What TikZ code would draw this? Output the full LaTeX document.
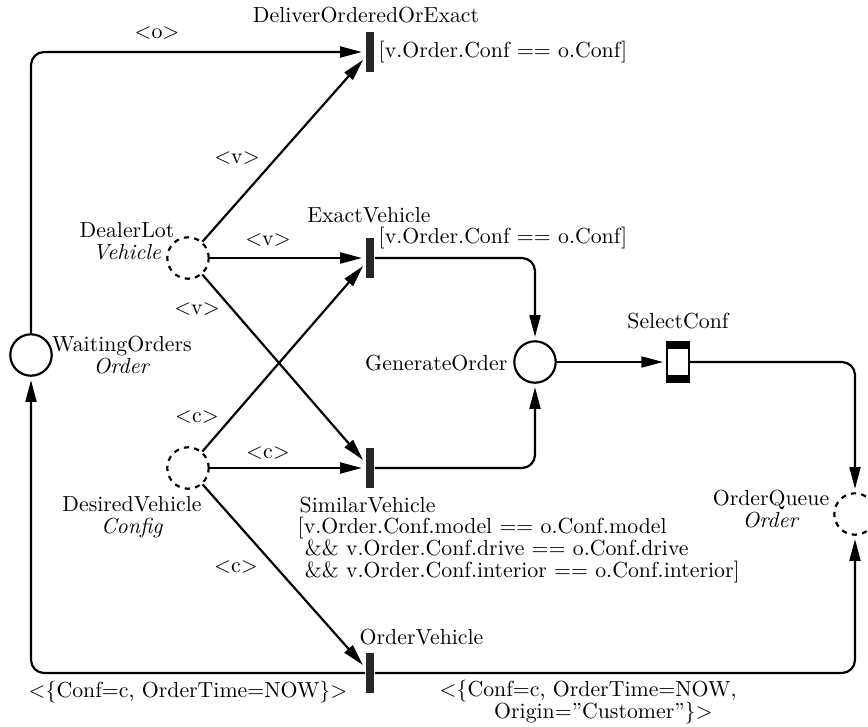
\documentclass[tikz,border=0pt]{standalone}
\usepackage{amsmath}
\usetikzlibrary{positioning,arrows.meta}

\begin{document}
\begin{tikzpicture}[x=0.4587pt, y=-0.4587pt,
        place/.style={circle, draw, line width=1pt, minimum size=19pt, inner sep=0pt},
        lot/.style={place, dash pattern=on 2.4pt off 2.4pt},
        trans/.style={rectangle, fill=black!85, minimum width=4pt, minimum height=18.5pt, inner sep=0pt},
        seltrans/.style={rectangle, draw, fill=white, line width=0.6pt,
            minimum width=10pt, minimum height=18.8pt, inner sep=0pt,
            path picture={
                \fill[black] ([yshift=-3.4pt]path picture bounding box.north west) rectangle (path picture bounding box.north east);
                \fill[black] (path picture bounding box.south west) rectangle ([yshift=3.4pt]path picture bounding box.south east);
            }},
        arc/.style={line width=1pt, -{Triangle[length=10pt,width=5pt]}, shorten >=1.5pt}]
    \useasboundingbox (0,0) rectangle (868,726);

    % places
    \node[place] (wait) at (31,355) {};
    \node[lot] (dealer) at (188,258) {};
    \node[lot] (desired) at (188,468) {};
    \node[place] (generate) at (535,362) {};
    \node[lot] (queue) at (855,514) {};

    % transitions
    \node[trans] (deliver) at (370,52) {};
    \node[trans] (exact) at (370,258) {};
    \node[trans] (similar) at (370,468) {};
    \node[trans] (ordveh) at (370,673) {};
    \node[seltrans] (select) at (678,362) {};

    % place names and types
    \node[align=center] (waitlbl) at (122,355) {WaitingOrders\\[-2pt]\textit{Order}};
    \node[align=center] (dealerlbl) at (127,241) {DealerLot\\[-2pt]\textit{Vehicle}};
    \node[align=center] (desiredlbl) at (132,517) {DesiredVehicle\\[-2pt]\textit{Config}};
    \node[anchor=east] (generatelbl) at (515,363) {GenerateOrder};
    \node[align=center] (queuelbl) at (771,509) {OrderQueue\\[-2pt]\textit{Order}};

    % transition names and guards
    \node (deliverlbl) at (366,15) {DeliverOrderedOrExact};
    \node[anchor=west] (deliverguard) at (371,52) {[v.Order.Conf == o.Conf]};
    \node (exactlbl) at (369,215) {ExactVehicle};
    \node[anchor=west] (exactguard) at (371,238) {[v.Order.Conf == o.Conf]};
    \node[above=2pt of select] (selectlbl) {SelectConf};
    \node[anchor=west] (similarlbl) at (292,505) {SimilarVehicle};
    \node[anchor=west, align=left] (similarguard) at (290,550)
        {[v.Order.Conf.model == o.Conf.model\\[-2pt]
         \ \&\& v.Order.Conf.drive == o.Conf.drive\\[-2pt]
         \ \&\& v.Order.Conf.interior == o.Conf.interior]};
    \node[anchor=west] (ordvehlbl) at (352,637) {OrderVehicle};

    % arcs
    \draw[arc, rounded corners=6pt] (wait) |- (deliver);
    \draw[arc] (dealer) -- (deliver);
    \draw[arc] (dealer) -- (exact);
    \draw[arc] (dealer) -- (similar);
    \draw[arc] (desired) -- (exact);
    \draw[arc] (desired) -- (similar);
    \draw[arc] (desired) -- (ordveh);
    \draw[arc, rounded corners=6pt] (exact) -| (generate);
    \draw[arc, rounded corners=6pt] (similar) -| (generate);
    \draw[arc] (generate) -- (select);
    \draw[arc, rounded corners=6pt] (select) -| (queue);
    \draw[arc, rounded corners=6pt] (ordveh) -| (wait);
    \draw[arc, rounded corners=6pt] (ordveh) -| (queue);

    % arc inscriptions
    \node (ino) at (157,33) {$<$o$>$};
    \node (inv1) at (237,158) {$<$v$>$};
    \node (inv2) at (268,240) {$<$v$>$};
    \node (inv3) at (197,309) {$<$v$>$};
    \node (inc1) at (197,417) {$<$c$>$};
    \node (inc2) at (268,453) {$<$c$>$};
    \node (inc3) at (236,567) {$<$c$>$};
    \node (outwait) at (188,692) {$<$\{Conf=c, OrderTime=NOW\}$>$};
    \node[anchor=west, align=left] (outqueue) at (432,702)
        {$<$\{Conf=c, OrderTime=NOW,\\[-2pt]\hspace*{25pt}Origin=''Customer''\}$>$};
\end{tikzpicture}
\end{document}
